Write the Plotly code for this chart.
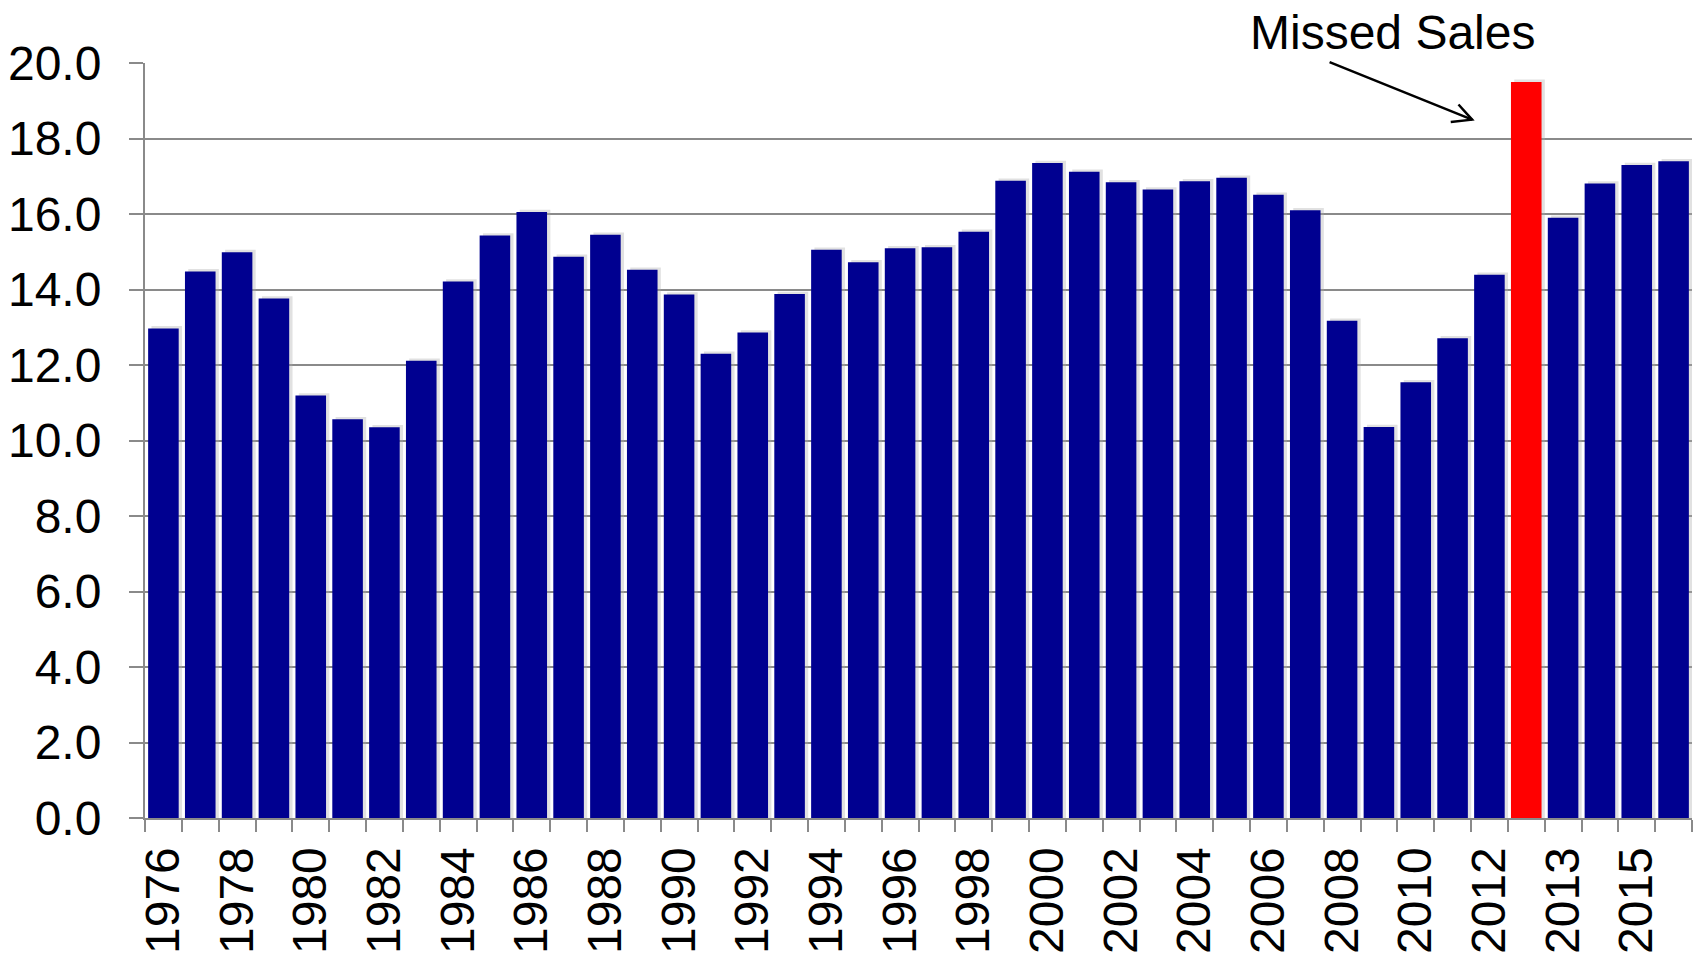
import plotly.graph_objects as go

categories = [str(y) for y in range(1976, 2013)] + ["Missed Sales", "2013", "2014", "2015", "2016"]
values = [12.97, 14.48, 14.99, 13.76, 11.19, 10.56, 10.35, 12.11, 14.21, 15.43,
          16.05, 14.87, 15.45, 14.52, 13.87, 12.30, 12.86, 13.88, 15.05, 14.72,
          15.09, 15.12, 15.53, 16.88, 17.35, 17.12, 16.84, 16.65, 16.87, 16.96,
          16.51, 16.10, 13.17, 10.36, 11.54, 12.71, 14.39, 19.50, 15.90, 16.81,
          17.30, 17.40]
highlight = "Missed Sales"
tick_labels = ["1976", "1978", "1980", "1982", "1984", "1986", "1988", "1990", "1992",
               "1994", "1996", "1998", "2000", "2002", "2004", "2006", "2008", "2010",
               "2012", "2013", "2015"]
y_ticks = [0, 2, 4, 6, 8, 10, 12, 14, 16, 18, 20]

NAVY = "#000090"
RED = "#FF0000"
GRID = "#8a8a8a"
FONT = "Liberation Sans, Arial, sans-serif"
FS = 48

colors = [RED if c == highlight else NAVY for c in categories]
ticktext = [c if c in tick_labels else "" for c in categories]

bw = 0.83
fig = go.Figure()
# soft shadow
fig.add_trace(go.Bar(x=categories, y=[v + 0.06 for v in values], width=bw,
                     offset=-bw / 2 + 0.09, marker=dict(color="rgba(170,170,170,0.35)", line_width=0),
                     hoverinfo="skip", showlegend=False))
fig.add_trace(go.Bar(x=categories, y=values, width=bw, offset=-bw / 2,
                     marker=dict(color=colors, line=dict(width=0)), showlegend=False))

fig.update_layout(
    barmode="overlay",
    width=1696, height=958,
    margin=dict(l=145, r=4, t=63, b=138),
    plot_bgcolor="white", paper_bgcolor="white",
    font=dict(family=FONT, size=FS, color="black"),
)
fig.update_xaxes(
    type="category", categoryorder="array", categoryarray=categories,
    tickmode="array", tickvals=categories, ticktext=ticktext,
    tickangle=-90, tickson="boundaries", ticks="outside", ticklen=12, tickwidth=2,
    tickcolor=GRID, showline=True, linecolor=GRID, linewidth=2, showgrid=False,
    tickfont=dict(family=FONT, size=FS, color="black"), ticklabelstandoff=8,
    range=[-0.5, len(categories) - 0.5],
)
fig.update_yaxes(
    range=[0, 20], tickmode="array", tickvals=y_ticks,
    ticktext=[f"{t:.1f}" for t in y_ticks],
    ticks="outside", ticklen=14, tickwidth=2, tickcolor=GRID,
    showline=True, linecolor=GRID, linewidth=2,
    showgrid=True, gridcolor=GRID, gridwidth=2, zeroline=False,
    tickfont=dict(family=FONT, size=FS, color="black"), ticklabelstandoff=18,
)

# arrow line (no head), head drawn as chevron
tip_x, tip_y = 35.53, 18.5
fig.add_annotation(x=tip_x, y=tip_y, ax=31.62, ay=20.04, axref="x", ayref="y",
                   xref="x", yref="y", text="", showarrow=True, arrowhead=0,
                   arrowwidth=2.5, arrowcolor="black")
fig.add_shape(type="path", xref="x", yref="y",
              path=f"M 35.16 18.90 L {tip_x} {tip_y} L 34.95 18.44",
              line=dict(color="black", width=2.5))
fig.add_annotation(x=tip_x - 2.17, y=1.0, xref="x", yref="paper", yanchor="bottom",
                   yshift=2, text="Missed Sales", showarrow=False,
                   font=dict(family=FONT, size=FS, color="black"))

fig.write_html("out.html")
